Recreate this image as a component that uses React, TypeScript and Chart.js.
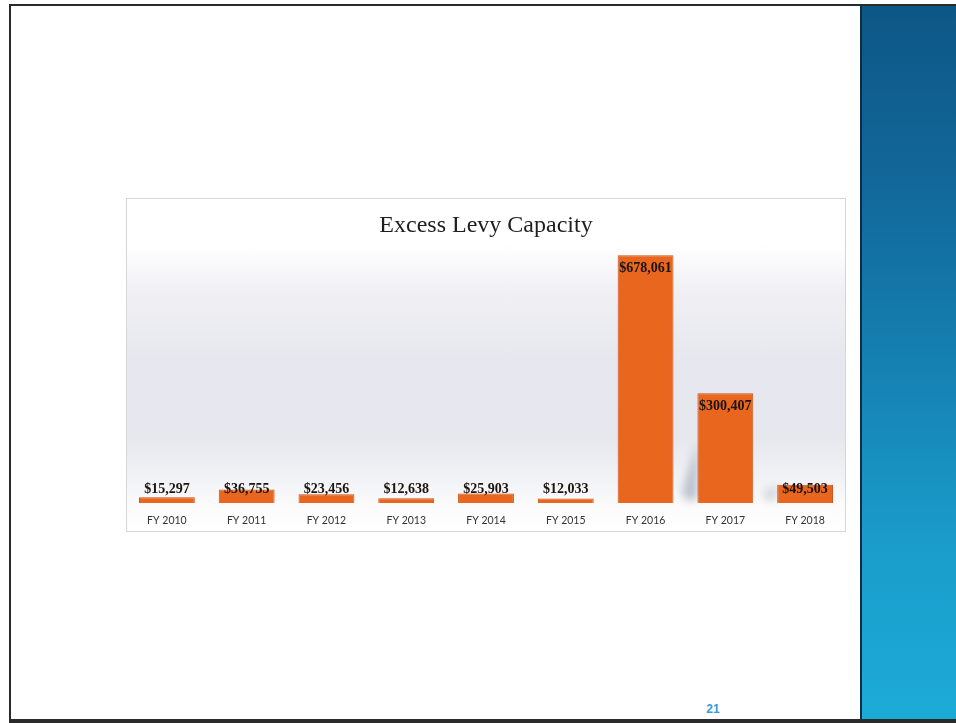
import React, { useEffect, useRef } from "react";
import { Chart, registerables } from "chart.js";

Chart.register(...registerables);

const categories = ["FY 2010", "FY 2011", "FY 2012", "FY 2013", "FY 2014", "FY 2015", "FY 2016", "FY 2017", "FY 2018"];
const levyValues = [15297, 36755, 23456, 12638, 25903, 12033, 678061, 300407, 49503];
const chartTitle = "Excess Levy Capacity";
const pageNumber = "21";

const fmt = (v: number) => "$" + v.toLocaleString("en-US");

const labelPlugin = {
  id: "valueLabels",
  afterDatasetsDraw(chart: any) {
    const ctx = chart.ctx;
    const meta = chart.getDatasetMeta(0);
    const base = chart.chartArea.bottom;
    ctx.save();
    ctx.font = "bold 14px 'Liberation Serif', serif";
    ctx.textAlign = "center";
    ctx.textBaseline = "middle";
    meta.data.forEach((bar: any, i: number) => {
      const y = Math.min(bar.y + 13.5, base - 13.5);
      ctx.fillStyle = "#1c1410";
      ctx.fillText(fmt(levyValues[i]), bar.x, y);
    });
    ctx.restore();
  },
};

const shadowPlugin = {
  id: "barShadow",
  beforeDatasetsDraw(chart: any) {
    const ctx = chart.ctx;
    const meta = chart.getDatasetMeta(0);
    const base = chart.chartArea.bottom;
    ctx.save();
    ctx.filter = "blur(4px)";
    [
      [7, 60, 0.4],
      [8, 18, 0.25],
    ].forEach(([i, h, a]) => {
      const bar = meta.data[i];
      if (!bar) return;
      const left = bar.x - bar.width / 2;
      ctx.fillStyle = `rgba(105,115,140,${a})`;
      ctx.beginPath();
      ctx.moveTo(left, base - h);
      ctx.lineTo(left, base - 4);
      ctx.lineTo(left - 10, base - 2);
      ctx.lineTo(left - 16, base - 10);
      ctx.closePath();
      ctx.fill();
    });
    ctx.restore();
  },
};

function ChartBox() {
  const ref = useRef<HTMLCanvasElement | null>(null);
  useEffect(() => {
    if (!ref.current) return;
    const chart = new Chart(ref.current, {
      type: "bar",
      data: {
        labels: categories,
        datasets: [
          {
            data: levyValues,
            backgroundColor: "#e8661d",
            borderColor: "#d04e14",
            borderWidth: 1,
            categoryPercentage: 1,
            barPercentage: 0.7,
          },
        ],
      },
      options: {
        responsive: false,
        animation: false,
        layout: { padding: { top: 0, bottom: 1.5, left: 0, right: 0 } },
        plugins: {
          legend: { display: false },
          tooltip: { enabled: false },
          title: {
            display: true,
            text: chartTitle,
            color: "#1e1e1e",
            font: { family: "'Liberation Serif', serif", size: 24, weight: "normal" },
            padding: { top: 12, bottom: 0 },
          },
        },
        scales: {
          x: {
            grid: { display: false, drawTicks: false, tickLength: 0 },
            border: { display: false },
            ticks: {
              color: "#333333",
              padding: 11,
              font: { family: "Lato, sans-serif", size: 10.5 },
              maxRotation: 0,
            },
          },
          y: {
            display: false,
            min: 0,
            max: 720000,
          },
        },
      },
      plugins: [shadowPlugin, labelPlugin],
    });
    return () => chart.destroy();
  }, []);
  return (
    <canvas
      ref={ref}
      width={718}
      height={340}
      style={{ position: "absolute", left: 127, top: 199, width: 718, height: 340 }}
    />
  );
}

export default function App() {
  return (
    <div
      style={{
        position: "fixed",
        left: 0,
        top: 0,
        width: 956,
        height: 723,
        background: "#ffffff",
        overflow: "hidden",
      }}
    >
      {/* page frame */}
      <div style={{ position: "absolute", left: 9, top: 4, width: 960, height: 2, background: "#2a2a2a" }} />
      <div style={{ position: "absolute", left: 9, top: 4, width: 2, height: 720, background: "#2a2a2a" }} />
      <div style={{ position: "absolute", left: 9, top: 719, width: 960, height: 4, background: "#2a2a2a" }} />
      {/* right blue panel */}
      <div
        style={{
          position: "absolute",
          left: 860,
          top: 6,
          width: 96,
          height: 713,
          background: "linear-gradient(to bottom, #0d5786 0%, #12689a 25%, #1580b2 50%, #1a9cca 75%, #1cabd7 100%)",
          borderLeft: "2px solid #0b2e48",
          boxSizing: "border-box",
        }}
      />
      {/* chart box */}
      <div
        style={{
          position: "absolute",
          left: 126,
          top: 198,
          width: 720,
          height: 334,
          boxSizing: "border-box",
          border: "1px solid #d6d6da",
          background:
            "linear-gradient(to bottom, #ffffff 0%, #ffffff 14%, #f0f0f4 28%, #e6e7ee 50%, #e7e8ee 72%, #f1f2f5 84%, #fbfbfc 92%, #ffffff 100%)",
        }}
      />
      <ChartBox />
      <div
        style={{
          position: "absolute",
          left: 700,
          top: 702,
          width: 26,
          textAlign: "center",
          color: "#3b9ad8",
          font: "bold 12px 'Liberation Sans', Arial, sans-serif",
        }}
      >
        {pageNumber}
      </div>
    </div>
  );
}
